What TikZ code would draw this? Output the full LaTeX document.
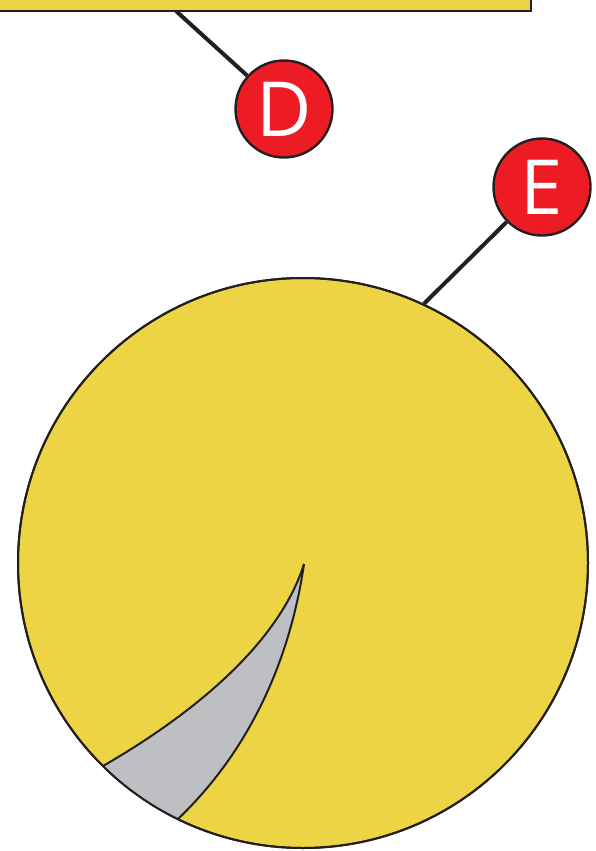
\documentclass[tikz,border=0pt]{standalone}
\usepackage{fontspec}
\setmainfont{Open Sans}
\usetikzlibrary{backgrounds}
\definecolor{cyellow}{RGB}{236,212,68}
\definecolor{cred}{RGB}{237,28,36}
\definecolor{cgray}{RGB}{190,191,194}
\definecolor{cline}{RGB}{35,31,32}
\tikzset{
  outline/.style={draw=cline, line width=2pt},
  badge/.style={circle, outline, line width=2.4pt, fill=cred, minimum size=97pt, inner sep=0pt,
    text=white, font=\fontsize{76}{76}\selectfont},
  leader/.style={draw=cline, line width=4pt},
}
\begin{document}
\begin{tikzpicture}[x=1pt, y=-1pt]
\useasboundingbox (0,0) rectangle (595,851);
% top box
\path[outline, fill=cyellow] (-20,-100) rectangle (531,11);
\coordinate (rectp) at (176,11);
% big disc
\node[circle, outline, fill=cyellow, minimum size=570pt, inner sep=0pt] (big) at (303,563) {};
\coordinate (tip) at (304,564);
\begin{scope}
  \clip (303,563) circle (285);
  \fill[cgray] (tip) .. controls (280,640) and (200,710) .. (103,766)
     -- (40,870) -- (178,880) -- (178,819)
     .. controls (250,750) and (290,660) .. (tip) -- cycle;
  \draw[cline, line width=2pt] (tip) .. controls (280,640) and (200,710) .. (103,766);
  \draw[cline, line width=2pt] (tip) .. controls (290,660) and (250,750) .. (178,819);
\end{scope}
\draw[outline] (303,563) circle (285);
% badges
\node[badge] (D) at (284,109) {D};
\node[badge] (E) at (542,187) {E};
\begin{pgfonlayer}{background}
  \draw[leader] (rectp) -- (D);
  \draw[leader] (big.65) -- (E);
\end{pgfonlayer}
\end{tikzpicture}
\end{document}
